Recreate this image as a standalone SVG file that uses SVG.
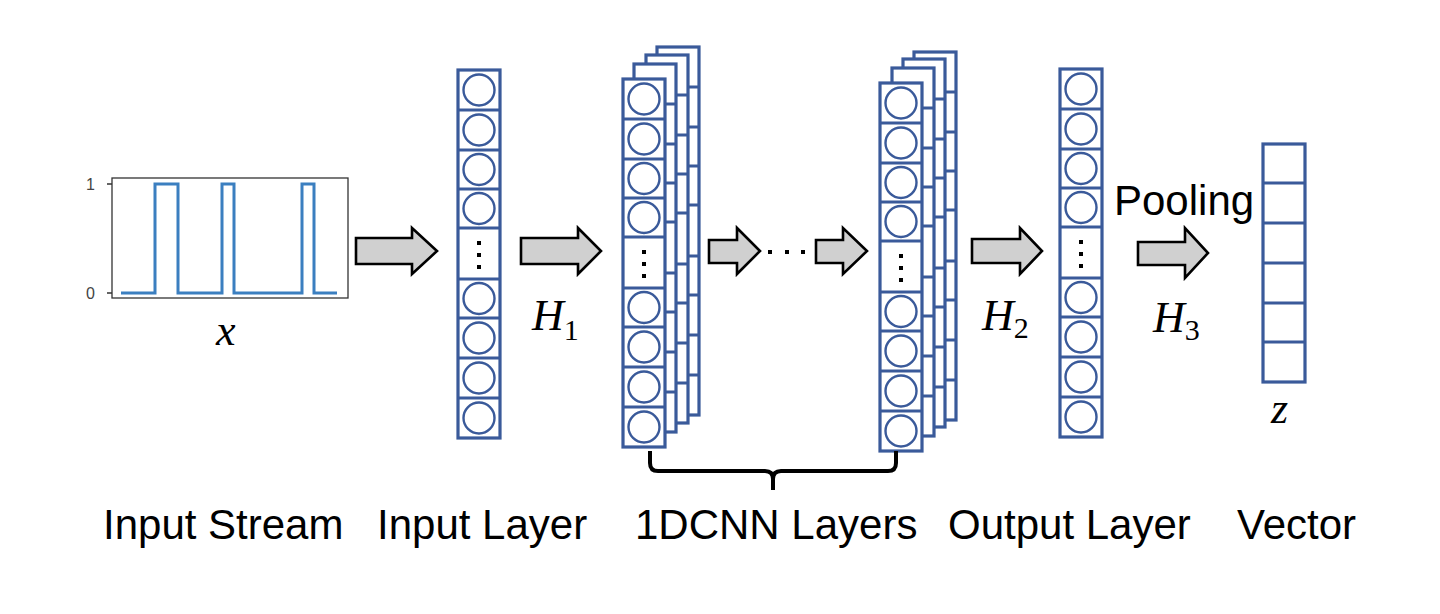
<svg xmlns="http://www.w3.org/2000/svg" width="1440" height="614" viewBox="0 0 1440 614">
<style>
.frame{fill:#fff;stroke:#3A5A9A;stroke-width:3.2}
.div{stroke:#3A5A9A;stroke-width:3.2}
.neuron{fill:#fff;stroke:#3A5A9A;stroke-width:2.4}
.dot{fill:#000}
.barrow{fill:#D0D0D0;stroke:#000;stroke-width:2.6;stroke-linejoin:miter}
.lbl{font-family:"Liberation Sans",Arial,sans-serif;font-size:42px;fill:#000}
.math{font-family:"Liberation Serif","Times New Roman",serif;font-style:italic;font-size:44px;fill:#000}
.sub{font-style:normal;font-size:30px}
.tick{font-family:"Liberation Sans",Arial,sans-serif;font-size:16px;fill:#444}
</style>
<defs>
<g id="colframe">
<rect class="frame" x="0" y="0" width="42" height="368"/>
<path class="div" d="M0,40H42M0,80H42M0,119H42M0,158H42M0,209H42M0,248H42M0,288H42M0,328H42"/>
</g>
<g id="colfull">
<use href="#colframe"/>
<circle class="neuron" cx="21" cy="20" r="15.5"/>
<circle class="neuron" cx="21" cy="60" r="15.5"/>
<circle class="neuron" cx="21" cy="99.5" r="15.5"/>
<circle class="neuron" cx="21" cy="138.5" r="15.5"/>
<rect class="dot" x="19" y="171" width="4" height="4"/>
<rect class="dot" x="19" y="183" width="4" height="4"/>
<rect class="dot" x="19" y="195" width="4" height="4"/>
<circle class="neuron" cx="21" cy="228.5" r="15.5"/>
<circle class="neuron" cx="21" cy="268" r="15.5"/>
<circle class="neuron" cx="21" cy="308" r="15.5"/>
<circle class="neuron" cx="21" cy="348" r="15.5"/>
</g>
</defs>
<rect x="0" y="0" width="1440" height="614" fill="#fff"/>

<g id="input-stream">
<rect x="112" y="178" width="236" height="120" fill="none" stroke="#333" stroke-width="1.3"/>
<path d="M107,184H112M107,293H112" stroke="#333" stroke-width="1.3"/>
<text class="tick" x="86" y="190">1</text>
<text class="tick" x="86" y="299">0</text>
<polyline points="121,293 155,293 155,184 178,184 178,293 222,293 222,184 234,184 234,293 302,293 302,184 314,184 314,293 337,293" fill="none" stroke="#3B7FC0" stroke-width="3"/>
<text class="math" x="216" y="345">x</text>
</g>

<g id="input-layer" transform="translate(458,70)"><use href="#colfull"/></g>

<g id="cnn-stack-1">
<use href="#colframe" transform="translate(657,47)"/>
<use href="#colframe" transform="translate(646,55)"/>
<use href="#colframe" transform="translate(634,64)"/>
<use href="#colfull" transform="translate(623,79)"/>
</g>

<g id="cnn-stack-2">
<use href="#colframe" transform="translate(914,52)"/>
<use href="#colframe" transform="translate(903,59)"/>
<use href="#colframe" transform="translate(892,68)"/>
<use href="#colfull" transform="translate(880,83)"/>
</g>

<g id="output-layer" transform="translate(1060,69)"><use href="#colfull"/></g>

<g id="vector">
<rect class="frame" x="1263" y="144" width="42" height="238"/>
<path class="div" d="M1263,183H1305M1263,223H1305M1263,263H1305M1263,303H1305M1263,342H1305"/>
<text class="math" x="1271" y="423">z</text>
</g>

<g id="connectors">
<polygon class="barrow" points="356,238 412,238 412,228 437,251 412,274 412,264 356,264"/>
<polygon class="barrow" points="521,238 578,238 578,228 601,251 578,274 578,264 521,264"/>
<polygon class="barrow" points="709,240 737,240 737,228 760,251 737,274 737,263 709,263"/>
<rect class="dot" x="768" y="250" width="4" height="4"/>
<rect class="dot" x="785" y="250" width="4" height="4"/>
<rect class="dot" x="801" y="250" width="4" height="4"/>
<polygon class="barrow" points="816,240 843,240 843,228 867,251 843,274 843,263 816,263"/>
<polygon class="barrow" points="972,239 1020,239 1020,228 1042,251 1020,274 1020,263 972,263"/>
<polygon class="barrow" points="1138,242 1185,242 1185,228 1208,253 1185,278 1185,265 1138,265"/>
<path d="M650,451V463Q650,471 658,471H765Q773,471 773,479V490M773,479Q773,471 781,471H888Q896,471 896,463V451" fill="none" stroke="#000" stroke-width="4"/>
</g>

<g id="labels">
<text class="math" x="532" y="330">H<tspan class="sub" dy="10">1</tspan></text>
<text class="math" x="982" y="330">H<tspan class="sub" dy="8">2</tspan></text>
<text class="math" x="1153" y="332">H<tspan class="sub" dy="8">3</tspan></text>
<text class="lbl" x="1114" y="215">Pooling</text>
<text class="lbl" x="103" y="539">Input Stream</text>
<text class="lbl" x="377" y="539">Input Layer</text>
<text class="lbl" x="635" y="539">1DCNN Layers</text>
<text class="lbl" x="948" y="539">Output Layer</text>
<text class="lbl" x="1237" y="539">Vector</text>
</g>
</svg>
